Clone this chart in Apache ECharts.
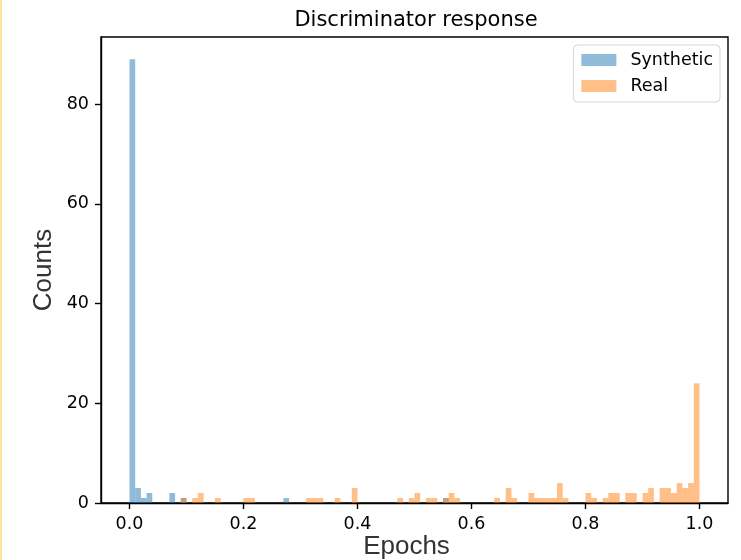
<!DOCTYPE html>
<html>
<head>
<meta charset="utf-8">
<title>Discriminator response</title>
<script src="https://cdn.jsdelivr.net/npm/echarts@6/dist/echarts.min.js"></script>
<style>
  html, body { margin: 0; padding: 0; background: #ffffff; }
  #chart { width: 741px; height: 560px; }
</style>
</head>
<body>
<div id="chart"></div>
<script>
// Histogram of discriminator outputs: 100 bins of width 0.01 over [0, 1]
const binStart = 0;
const binWidth = 0.01;

// Counts per bin for synthetic samples
const syntheticCounts = [
  89, 3, 1, 2, 0, 0, 0, 2, 0, 1,
  0, 0, 0, 0, 0, 0, 0, 0, 0, 0,
  0, 0, 0, 0, 0, 0, 0, 1, 0, 0,
  0, 0, 0, 0, 0, 0, 0, 0, 0, 0,
  0, 0, 0, 0, 0, 0, 0, 0, 0, 0,
  0, 0, 0, 0, 0, 1, 0, 0, 0, 0,
  0, 0, 0, 0, 0, 0, 0, 0, 0, 0,
  0, 0, 0, 0, 0, 0, 0, 0, 0, 0,
  0, 0, 0, 0, 0, 0, 0, 0, 0, 0,
  0, 0, 0, 0, 0, 0, 0, 0, 0, 0
];

// Counts per bin for real samples
const realCounts = [
  0, 0, 0, 0, 0, 0, 0, 0, 0, 1,
  0, 1, 2, 0, 0, 1, 0, 0, 0, 0,
  1, 1, 0, 0, 0, 0, 0, 0, 0, 0,
  0, 1, 1, 1, 0, 0, 1, 0, 0, 3,
  0, 0, 0, 0, 0, 0, 0, 1, 0, 1,
  2, 0, 1, 1, 0, 1, 2, 1, 0, 0,
  0, 0, 0, 0, 1, 0, 3, 1, 0, 0,
  2, 1, 1, 1, 1, 4, 1, 0, 0, 0,
  2, 1, 0, 1, 2, 2, 0, 2, 2, 0,
  2, 3, 0, 3, 3, 2, 4, 3, 4, 24
];

const seriesNames = ['Synthetic', 'Real'];
const xTicks = [0, 0.2, 0.4, 0.6, 0.8, 1.0];
const yTicks = [0, 20, 40, 60, 80];

const colorSynthetic = 'rgba(31, 119, 180, 0.5)';
const colorReal = 'rgba(255, 127, 14, 0.5)';

function toBins(counts) {
  const out = [];
  counts.forEach(function (c, i) {
    if (c > 0) {
      const lo = binStart + i * binWidth;
      out.push([lo, lo + binWidth, c]);
    }
  });
  return out;
}

function renderBin(params, api) {
  const p0 = api.coord([api.value(0), 0]);
  const p1 = api.coord([api.value(1), api.value(2)]);
  return {
    type: 'rect',
    shape: { x: p0[0], y: p1[1], width: p1[0] - p0[0], height: p0[1] - p1[1] },
    style: { fill: api.visual('color') }
  };
}

const font = 'DejaVu Sans';
const chart = echarts.init(document.getElementById('chart'), null, { renderer: 'canvas' });

chart.setOption({
  animation: false,
  backgroundColor: '#ffffff',
  title: {
    text: 'Discriminator response',
    left: 411,
    textAlign: 'center',
    top: 5,
    textStyle: { fontFamily: font, fontSize: 21, fontWeight: 'normal', color: '#000000' }
  },
  legend: {
    data: seriesNames,
    orient: 'vertical',
    right: 21,
    top: 45,
    itemWidth: 35,
    itemHeight: 12,
    itemGap: 6,
    icon: 'rect',
    padding: [5, 7, 6, 8],
    backgroundColor: '#ffffff',
    borderColor: '#d6d6d6',
    borderWidth: 1,
    borderRadius: 4,
    textStyle: { fontFamily: font, fontSize: 17.5, color: '#000000', lineHeight: 20, padding: [0, 0, 0, 9] }
  },
  grid: {
    left: 101,
    right: 13,
    top: 37,
    bottom: 57,
    outerBoundsMode: 'none',
    containLabel: false,
    show: true,
    borderColor: '#000000',
    borderWidth: 1.4,
    backgroundColor: 'transparent'
  },
  xAxis: {
    type: 'value',
    min: -0.05,
    max: 1.05,
    name: 'Epochs',
    nameLocation: 'middle',
    nameMoveOverlap: false,
    nameGap: 31,
    nameTextStyle: { fontFamily: 'Liberation Sans', fontSize: 26, color: '#333333', padding: [0, 16, 0, 0] },
    splitLine: { show: false },
    axisLine: { show: true, onZero: false, lineStyle: { color: '#000000', width: 1.4 } },
    axisTick: { show: true, length: 6, customValues: xTicks, lineStyle: { color: '#000000', width: 1.4 } },
    axisLabel: {
      customValues: xTicks,
      margin: 12,
      fontFamily: font,
      fontSize: 17.5,
      color: '#000000',
      formatter: function (v) { return v.toFixed(1); }
    }
  },
  yAxis: {
    type: 'value',
    min: 0,
    max: 93.45,
    name: 'Counts',
    nameLocation: 'middle',
    nameMoveOverlap: false,
    nameGap: 44,
    nameTextStyle: { fontFamily: 'Liberation Sans', fontSize: 26, color: '#333333' },
    splitLine: { show: false },
    axisLine: { show: true, onZero: false, lineStyle: { color: '#000000', width: 1.4 } },
    axisTick: { show: true, length: 6, customValues: yTicks, lineStyle: { color: '#000000', width: 1.4 } },
    axisLabel: {
      customValues: yTicks,
      margin: 12,
      fontFamily: font,
      fontSize: 17.5,
      color: '#000000'
    }
  },
  graphic: [{
    type: 'rect',
    shape: { x: 0, y: 0, width: 2, height: 560 },
    style: { fill: '#fbe3a0' },
    silent: true
  }],
  series: [
    {
      name: seriesNames[0],
      type: 'custom',
      renderItem: renderBin,
      itemStyle: { color: colorSynthetic },
      encode: { x: [0, 1], y: 2 },
      data: toBins(syntheticCounts)
    },
    {
      name: seriesNames[1],
      type: 'custom',
      renderItem: renderBin,
      itemStyle: { color: colorReal },
      encode: { x: [0, 1], y: 2 },
      data: toBins(realCounts)
    }
  ]
});
</script>
</body>
</html>
